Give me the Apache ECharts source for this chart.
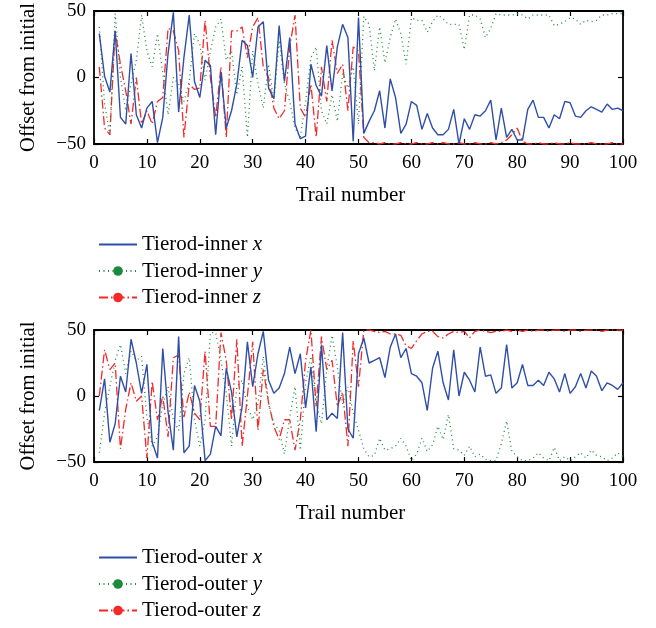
<!DOCTYPE html>
<html><head><meta charset="utf-8">
<script src="https://cdn.jsdelivr.net/npm/echarts@6/dist/echarts.min.js"></script>
<style>html,body{margin:0;padding:0;background:#fff}#c{width:656px;height:628px}</style>
</head><body><div id="c"></div>
<script>
const trials = Array.from({length: 100}, (_, i) => i + 1);
const xTicks = [0,10,20,30,40,50,60,70,80,90,100];
const yTicks = [-50, 0, 50];
const seriesNames = ['Tierod-inner x','Tierod-inner y','Tierod-inner z','Tierod-outer x','Tierod-outer y','Tierod-outer z'];

const innerX = [33,1,-11,35,-30,-35,18,-28,-38,-23,-18,-49,-30,18,49,-26,15,47,-3,-15,13,9,-43,4,-38,-25,-5,28,24,0,38,42,-8,-16,39,-3,30,-35,-46,-44,10,-6,-14,24,-10,23,40,30,-48,45,
-42,-33,-25,-10,-38,-1,-15,-42,-35,-18,-21,-39,-27,-38,-43,-43,-39,-24,-50,-31,-39,-28,-29,-25,-17,-47,-23,-45,-39,-47,-47,-24,-17,-30,-30,-38,-28,-31,-18,-19,-29,-30,-25,-22,-24,-26,-20,-24,-23,-25];
const innerY = [38,-20,-43,48,0,-25,-5,13,47,20,8,33,3,-28,0,-5,-18,-3,33,25,-2,20,38,44,13,20,-13,8,-45,20,-5,-23,10,-18,28,-5,-18,-38,-45,-18,15,23,-25,-35,-13,-33,3,-8,8,-35,
46,40,5,38,11,30,44,33,10,45,43,43,34,42,47,44,40,40,40,21,47,47,44,30,37,48,47,47,47,48,47,44,47,47,47,47,39,40,42,45,44,40,43,42,43,47,47,48,48,48];
const innerZ = [8,-38,-43,35,10,-10,-35,0,-35,-25,-35,-18,-15,37,35,20,-45,-5,-9,-8,43,0,-30,8,-45,35,35,38,15,38,45,8,0,-23,-31,-25,23,47,-23,-30,-5,-45,8,-18,28,3,10,-25,23,20,
-45,-49,-49,-50,-49,-50,-50,-49,-50,-50,-49,-50,-50,-49,-50,-49,-50,-50,-49,-50,-50,-49,-50,-50,-49,-50,-49,-47,-43,-38,-48,-50,-50,-49,-50,-50,-49,-50,-50,-49,-50,-50,-50,-49,-50,-50,-50,-49,-50,-50];
const outerX = [-11,13,-35,-21,15,3,43,25,2,24,-35,-47,36,-12,-41,45,-43,-38,8,-4,-49,-44,-23,-30,21,3,-31,-8,41,7,32,49,12,2,6,17,37,17,32,-9,22,-27,39,-18,-13,-17,48,-25,-32,32,
44,25,27,29,14,37,47,29,36,17,15,10,-11,21,34,10,-3,35,0,18,12,3,37,15,16,2,6,39,6,10,24,8,8,12,8,18,13,3,17,2,7,17,6,19,15,4,10,8,5,10];
const outerY = [-43,-13,7,27,39,17,34,27,30,-16,-38,-31,-6,7,-18,-26,17,29,-18,-38,-18,48,48,27,2,-38,7,12,-8,-18,-6,30,-6,-21,-26,-44,-16,7,-41,10,30,-6,-21,20,46,22,-6,7,-13,-26,
-40,-46,-45,-32,-41,-40,-38,-32,-38,-49,-44,-32,-42,-37,-23,-33,-14,-40,-41,-45,-38,-46,-44,-48,-49,-49,-36,-19,-42,-46,-49,-49,-47,-43,-47,-49,-39,-49,-46,-49,-46,-43,-47,-41,-45,-46,-49,-47,-43,-46];
const outerZ = [0,35,20,25,-40,-10,10,-4,0,-47,11,-18,0,-31,29,31,-16,3,-13,-18,34,-23,-23,48,27,-18,43,-38,0,41,-26,20,-5,-23,-33,-18,-18,-41,-18,27,50,-8,45,20,27,-8,3,-38,42,7,
50,50,49,48,49,47,47,46,38,36,42,47,49,49,45,44,47,49,48,49,44,49,50,49,48,49,49,50,49,50,49,50,49,50,50,49,50,50,49,50,50,49,50,50,50,49,50,50,50,50];

const serif = 'Liberation Serif';
const blue = '#2f4fa6', green = '#1c8a3c', red = '#f22a2a';
const toPairs = arr => trials.map((t, i) => [t, arr[i]]);
const fmtNum = v => String(v).replace('-', '\u2212');

function xAxisDef(gi, bottom) {
  return {
    type: 'value', gridIndex: gi, min: 0, max: 100, interval: 10,
    position: bottom ? 'bottom' : 'top',
    axisLine: {show: true, onZero: false, lineStyle: {color: '#000', width: 1.8}},
    axisTick: {show: true, inside: true, length: 5, lineStyle: {color: '#000', width: 1.2}},
    axisLabel: {show: bottom, color: '#000', fontFamily: serif, fontSize: 19, margin: 10, formatter: fmtNum},
    splitLine: {show: false},
    name: bottom ? 'Trail number' : '', nameLocation: 'middle', nameGap: 41,
    nameTextStyle: {color: '#000', fontFamily: serif, fontSize: 21, padding: [0, 16, 0, 0]}
  };
}
function yAxisDef(gi, left) {
  return {
    type: 'value', gridIndex: gi, min: -50, max: 50, interval: 50,
    position: left ? 'left' : 'right',
    axisLine: {show: true, onZero: false, lineStyle: {color: '#000', width: 1.8}},
    axisTick: {show: true, inside: true, length: 5, lineStyle: {color: '#000', width: 1.2}},
    axisLabel: {show: left, color: '#000', fontFamily: serif, fontSize: 19, margin: 8, formatter: fmtNum},
    splitLine: {show: false},
    name: left ? 'Offset from initial' : '', nameLocation: 'middle', nameGap: 55,
    nameTextStyle: {color: '#000', fontFamily: serif, fontSize: 20.5}
  };
}
const styles = [
  {color: blue, type: 'solid', symbol: 'none'},
  {color: green, type: [1, 3.5], symbol: 'circle'},
  {color: red, type: [9, 3, 1.5, 3], symbol: 'circle'}
];
const series = [innerX, innerY, innerZ, outerX, outerY, outerZ].map((arr, k) => {
  const s = styles[k % 3];
  const gi = k < 3 ? 0 : 1;
  return {
    name: seriesNames[k], type: 'line', xAxisIndex: gi * 2, yAxisIndex: gi * 2,
    data: toPairs(arr), symbol: s.symbol, symbolSize: 9, showSymbol: false,
    lineStyle: {color: s.color, width: s.type === 'solid' ? 1.4 : 1.3, type: s.type},
    itemStyle: {color: s.color}, emphasis: {disabled: true}, animation: false, z: 10 - (k % 3)
  };
});
const legendText = {
  color: '#000', fontFamily: serif, fontSize: 21,
  rich: {a: {fontFamily: serif, fontSize: 21, color: '#000'}, i: {fontFamily: serif, fontSize: 21, fontStyle: 'italic', color: '#000'}}
};
const legendFmt = name => '{a|' + name.slice(0, -1) + '}{i|' + name.slice(-1) + '}';
const legendData = names => names.map((n, i) => i === 0 ? {name: n, itemStyle: {opacity: 0}} : {name: n});
const chart = echarts.init(document.getElementById('c'));
chart.setOption({
  backgroundColor: '#fff',
  animation: false,
  grid: [
    {left: 94, top: 11, width: 529, height: 133},
    {left: 94, top: 330, width: 529, height: 132}
  ],
  xAxis: [xAxisDef(0, true), xAxisDef(0, false), xAxisDef(1, true), xAxisDef(1, false)],
  yAxis: [yAxisDef(0, true), yAxisDef(0, false), yAxisDef(1, true), yAxisDef(1, false)],
  legend: [
    {data: legendData(seriesNames.slice(0, 3)), orient: 'vertical', left: 93, top: 229, itemWidth: 38, itemHeight: 12, itemGap: 5.5,
     selectedMode: false, textStyle: legendText, formatter: legendFmt},
    {data: legendData(seriesNames.slice(3)), orient: 'vertical', left: 93, top: 542, itemWidth: 38, itemHeight: 12, itemGap: 5.5,
     selectedMode: false, textStyle: legendText, formatter: legendFmt}
  ],
  series: series
});
</script></body></html>
